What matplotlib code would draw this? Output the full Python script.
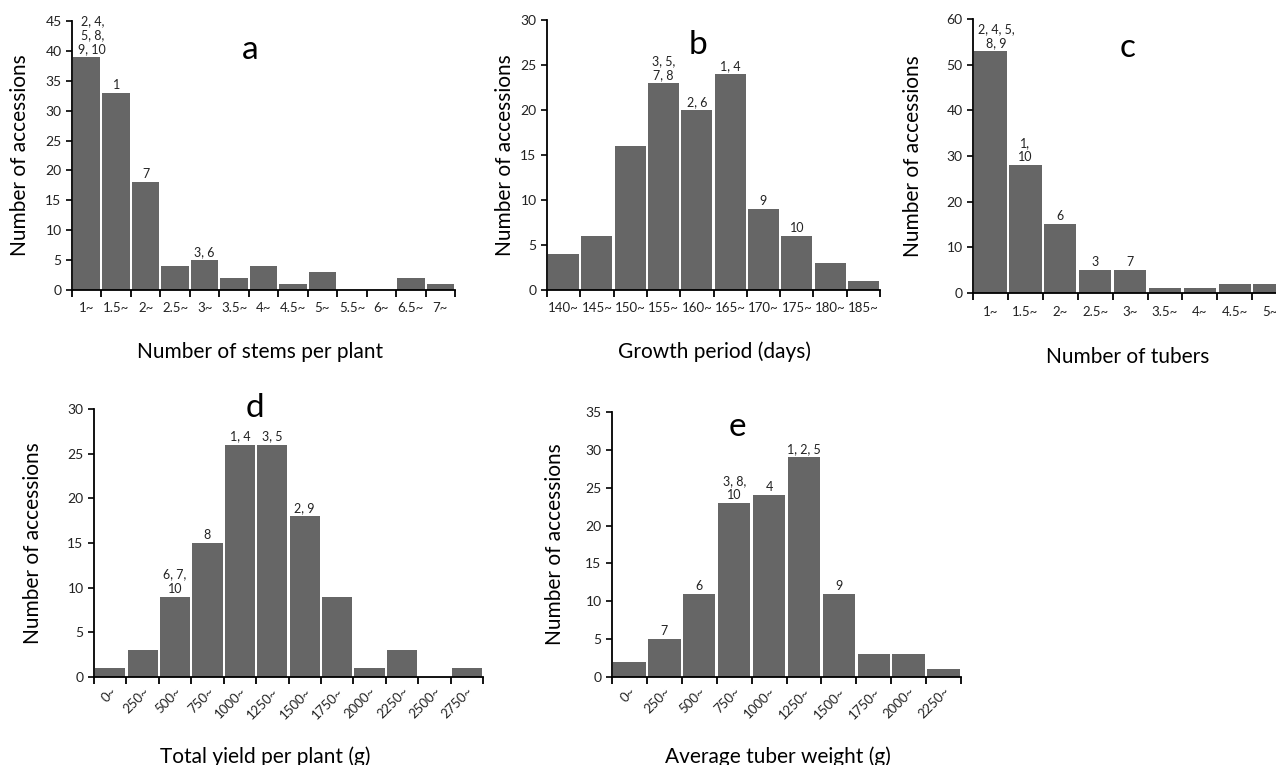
import matplotlib
matplotlib.use("Agg")
import matplotlib.pyplot as plt

plt.rcParams['font.family'] = ['Lato', 'DejaVu Sans']

W, H = 1276, 765

# panel a
stems_cats = ["1~", "1.5~", "2~", "2.5~", "3~", "3.5~", "4~", "4.5~", "5~", "5.5~", "6~", "6.5~", "7~"]
stems_vals = [39, 33, 18, 4, 5, 2, 4, 1, 3, 0, 0, 2, 1]
stems_notes = {0: "2, 4,\n5, 8,\n9, 10", 1: "1", 2: "7", 4: "3, 6"}

# panel b
growth_cats = ["140~", "145~", "150~", "155~", "160~", "165~", "170~", "175~", "180~", "185~"]
growth_vals = [4, 6, 16, 23, 20, 24, 9, 6, 3, 1]
growth_notes = {3: "3, 5,\n7, 8", 4: "2, 6", 5: "1, 4", 6: "9", 7: "10"}

# panel c
tubers_cats = ["1~", "1.5~", "2~", "2.5~", "3~", "3.5~", "4~", "4.5~", "5~"]
tubers_vals = [53, 28, 15, 5, 5, 1, 1, 2, 2]
tubers_notes = {0: "2, 4, 5,\n8, 9", 1: "1,\n10", 2: "6", 3: "3", 4: "7"}

# panel d
yield_cats = ["0~", "250~", "500~", "750~", "1000~", "1250~", "1500~", "1750~", "2000~", "2250~", "2500~", "2750~"]
yield_vals = [1, 3, 9, 15, 26, 26, 18, 9, 1, 3, 0, 1]
yield_notes = {2: "6, 7,\n10", 3: "8", 4: "1, 4", 5: "3, 5", 6: "2, 9"}

# panel e
weight_cats = ["0~", "250~", "500~", "750~", "1000~", "1250~", "1500~", "1750~", "2000~", "2250~"]
weight_vals = [2, 5, 11, 23, 24, 29, 11, 3, 3, 1]
weight_notes = {1: "7", 2: "6", 3: "3, 8,\n10", 4: "4", 5: "1, 2, 5", 6: "9"}

fig = plt.figure(figsize=(W / 100, H / 100), dpi=100)


def px_axes(x0, x1, ytop, ybot):
    return fig.add_axes([x0 / W, (H - ybot) / H, (x1 - x0) / W, (ybot - ytop) / H])


def panel(rect, cats, vals, notes, ymax, ystep, letter, letter_xy, xlabel, xlabel_xy, ylabel_x, rotate=False):
    ax = px_axes(*rect)
    n = len(cats)
    x = list(range(n))
    ax.bar(x, vals, width=0.93, color="#666666", edgecolor="none", zorder=2)
    ax.set_xlim(-0.5, n - 0.5)
    ax.set_ylim(0, ymax)
    ax.set_yticks(range(0, ymax + 1, ystep))
    ax.set_xticks(x)
    if rotate:
        ax.set_xticklabels(cats, rotation=45, ha="right", rotation_mode="anchor", fontsize=9.5)
        ax.tick_params(axis="x", which="major", length=0, pad=6, colors="#222222")
    else:
        ax.set_xticklabels(cats, fontsize=9.5)
        ax.tick_params(axis="x", which="major", length=0, pad=9, colors="#222222")
    ax.set_xticks([i - 0.5 for i in range(n + 1)], minor=True)
    ax.tick_params(axis="x", which="minor", length=5, width=1.3, direction="out", color="black")
    ax.tick_params(axis="y", length=4, width=1.2, labelsize=10, colors="#222222")
    ax.tick_params(axis="y", color="black")
    for s in ["top", "right"]:
        ax.spines[s].set_visible(False)
    for s in ["left", "bottom"]:
        ax.spines[s].set_linewidth(1.3)
    for i, txt in notes.items():
        # first-bar labels sit a little right of centre, clear of the axis
        dx = 4 if i == 0 else 0
        ax.annotate(txt, (i, vals[i]), xytext=(dx, 1.5), textcoords="offset points",
                    ha="center", va="bottom", fontsize=9, color="#222222",
                    linespacing=1.2, annotation_clip=False)
    fig.text(letter_xy[0] / W, 1 - letter_xy[1] / H, letter, fontsize=24,
             ha="center", va="center")
    fig.text(xlabel_xy[0] / W, 1 - xlabel_xy[1] / H, xlabel, fontsize=15,
             ha="center", va="center")
    cy = 1 - (rect[2] + rect[3]) / 2 / H
    fig.text(ylabel_x / W, cy, "Number of accessions", fontsize=15,
             rotation=90, ha="center", va="center")
    return ax


panel((72, 455, 21, 290), stems_cats, stems_vals, stems_notes, 45, 5,
      "a", (250, 50), "Number of stems per plant", (260, 352), 20)
panel((547, 880, 20, 290), growth_cats, growth_vals, growth_notes, 30, 5,
      "b", (698, 45), "Growth period (days)", (714, 352), 505)
panel((973, 973 + 9 * 34.9, 19, 293), tubers_cats, tubers_vals, tubers_notes, 60, 10,
      "c", (1128, 48), "Number of tubers", (1128, 357), 913)
panel((94, 483, 409, 677), yield_cats, yield_vals, yield_notes, 30, 5,
      "d", (255, 408), "Total yield per plant (g)", (265, 757), 33, rotate=True)
panel((612, 961, 412, 677), weight_cats, weight_vals, weight_notes, 35, 5,
      "e", (737, 427), "Average tuber weight (g)", (778, 757), 555, rotate=True)

fig.savefig("out.png", dpi=100)
